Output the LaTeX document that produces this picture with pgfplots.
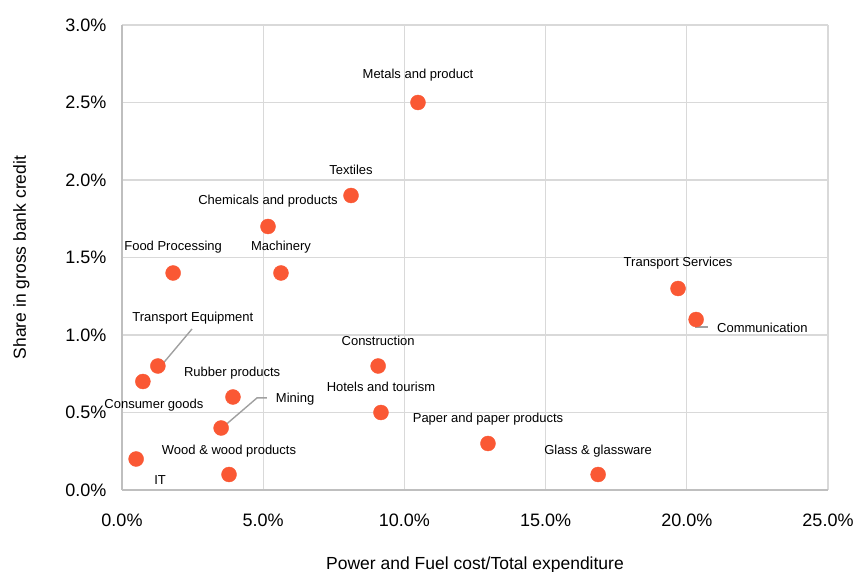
\documentclass[border=0pt]{standalone}
\usepackage{fontspec}
\setmainfont{Liberation Sans}
\usepackage{pgfplots}
\pgfplotsset{compat=1.18}
\definecolor{dot}{RGB}{250,88,52}
\definecolor{gridc}{RGB}{217,217,217}
\definecolor{axc}{RGB}{191,191,191}
\definecolor{lead}{RGB}{160,160,160}
\begin{document}
\begin{tikzpicture}
\begin{axis}[
  scale only axis,
  width=706pt, height=465pt,
  xmin=0, xmax=25, ymin=0, ymax=3,
  xtick={0,5,...,25}, ytick={0,0.5,...,3},
  grid=major,
  major grid style={gridc, line width=1.2pt},
  axis x line*=bottom, axis y line*=left,
  axis line style={axc, line width=1.4pt},
  major tick length=0pt,
  /pgf/number format/assume math mode=true,
  xticklabel={\pgfmathprintnumber[fixed,fixed zerofill,precision=1]{\tick}\%},
  yticklabel={\pgfmathprintnumber[fixed,fixed zerofill,precision=1]{\tick}\%},
  tick label style={font=\fontsize{18}{20}\selectfont},
  xticklabel style={yshift=-20pt},
  yticklabel style={xshift=-12pt},
  xlabel={Power and Fuel cost/Total expenditure},
  ylabel={Share in gross bank credit},
  label style={font=\fontsize{17.5}{20}\selectfont},
  xlabel style={at={(axis description cs:0.5,0)}, yshift=-63pt},
  ylabel style={yshift=29pt},
  clip=false,
]
\addplot[only marks, mark=*, mark size=7.5pt, color=dot] coordinates {
  (10.48,2.50) (8.11,1.90) (5.17,1.70) (1.81,1.40) (5.63,1.40)
  (19.69,1.30) (20.33,1.10) (1.27,0.80) (0.74,0.70) (9.07,0.80)
  (3.93,0.60) (9.17,0.50) (3.51,0.40) (12.96,0.30) (0.50,0.20)
  (3.79,0.10) (16.86,0.10)
};
\draw[lead, line width=1.4pt] (axis cs:2.48,1.039) -- (axis cs:1.35,0.794);
\draw[lead, line width=1.4pt] (axis cs:3.54,0.40) -- (axis cs:4.78,0.594) -- (axis cs:5.13,0.594);
\draw[lead, line width=1.4pt] (axis cs:20.33,1.09) -- (axis cs:20.33,1.052) -- (axis cs:20.75,1.052);
\begin{scope}[every node/.style={font=\fontsize{13}{15}\selectfont, inner sep=0pt}]
\node at (axis cs:10.48,2.677) {Metals and product};
\node at (axis cs:8.11,2.065) {Textiles};
\node at (axis cs:5.17,1.865) {Chemicals and products};
\node at (axis cs:1.81,1.568) {Food Processing};
\node at (axis cs:5.63,1.568) {Machinery};
\node at (axis cs:19.69,1.465) {Transport Services};
\node[anchor=west] at (axis cs:21.07,1.045) {Communication};
\node at (axis cs:2.51,1.11) {Transport Equipment};
\node at (axis cs:1.13,0.548) {Consumer goods};
\node at (axis cs:9.07,0.961) {Construction};
\node at (axis cs:3.90,0.755) {Rubber products};
\node at (axis cs:9.17,0.665) {Hotels and tourism};
\node at (axis cs:6.13,0.587) {Mining};
\node at (axis cs:12.96,0.458) {Paper and paper products};
\node at (axis cs:1.35,0.065) {IT};
\node at (axis cs:3.79,0.252) {Wood \& wood products};
\node at (axis cs:16.86,0.252) {Glass \& glassware};
\end{scope}
\end{axis}
\pgfresetboundingbox
\path (current axis.south west) ++(-122pt,-82pt) rectangle ++(854pt,572pt);
\end{tikzpicture}
\end{document}
